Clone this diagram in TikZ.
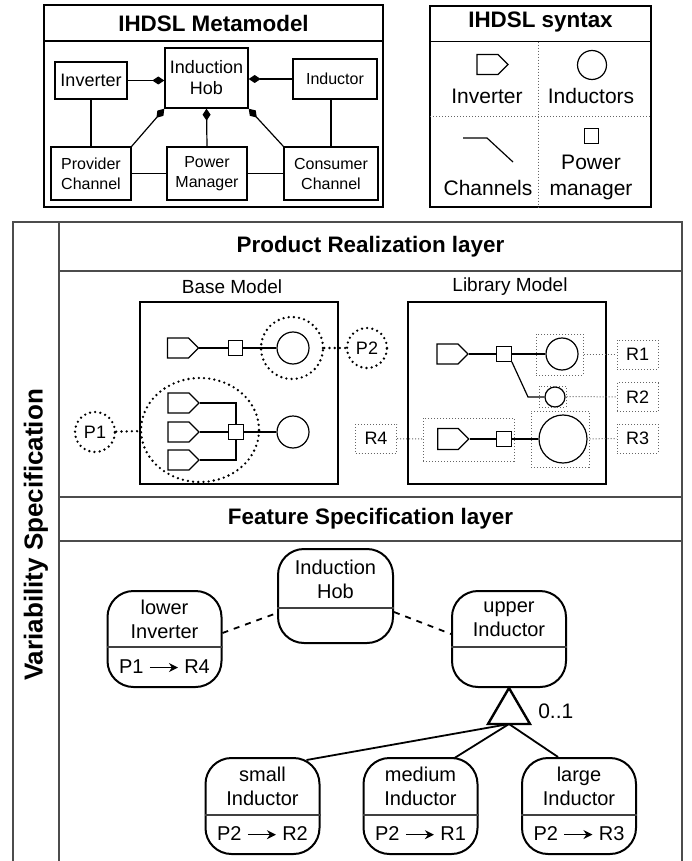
\documentclass[tikz,border=0pt]{standalone}
\usepackage{fontspec}
\setmainfont{Liberation Sans}
\usepackage{tikz}
\usetikzlibrary{
  arrows.meta,
  positioning,
  shapes.geometric,
  shapes.symbols,
  calc
}
\newcommand{\maparrow}{\tikz[baseline=-0.6ex]\draw[-{Stealth[length=4.5pt,width=4.5pt]}, line width=0.8pt] (0pt,0pt) -- (14pt,0pt);}

\begin{document}
\begin{tikzpicture}[
  x=0.5pt, y=-0.5pt,
  line width=0.6pt,
  titleT/.style={font=\fontsize{11.2}{13}\selectfont\bfseries},
  metaB/.style={
    draw, line width=0.7pt, align=center, inner sep=1pt,
    minimum width=40pt, minimum height=26.5pt, font=\fontsize{8}{10}\selectfont,
  },
  compose/.style={-{Diamond[length=6pt,width=4pt]}},
  synT/.style={font=\fontsize{10.5}{13}\selectfont, align=center},
  frameL/.style={draw=black!70, line width=0.75pt},
  modelB/.style={draw, line width=1pt, minimum width=99pt, minimum height=91pt},
  modelT/.style={font=\fontsize{9.5}{11}\selectfont},
  inv/.style={draw, signal, signal to=east, minimum width=15.5pt, minimum height=10pt, inner sep=0pt},
  mgr/.style={draw, minimum size=7.25pt, inner sep=0pt},
  ind/.style={draw, circle, minimum size=16pt, inner sep=0pt},
  pdot/.style={draw, dash pattern=on 0pt off 2.6pt, line width=1.3pt, line cap=round},
  ptag/.style={pdot, circle, minimum size=20pt, inner sep=0pt, font=\fontsize{9}{10}\selectfont},
  rdot/.style={draw=black!60, densely dotted, line width=0.5pt, inner sep=0pt},
  rtag/.style={rdot, minimum width=20.5pt, minimum height=14.5pt, font=\fontsize{9}{10}\selectfont},
  featB/.style={draw, line width=1pt, rounded corners=13pt, minimum width=57pt, minimum height=48pt},
  featT/.style={align=center, font=\fontsize{10}{12}\selectfont},
  featS/.style={draw=black!75, line width=0.7pt},
  featE/.style={line width=0.9pt},
]
\useasboundingbox (0,0) rectangle (691,861);

% IHDSL metamodel
\draw[line width=0.8pt] (44,5) rectangle (383,207);
\draw[line width=0.8pt] (44,41) -- (383,41);
\node[titleT] (metaT) at (213.5,23) {IHDSL Metamodel};

\node[metaB, minimum width=36pt, minimum height=18.5pt, font=\fontsize{9}{10.5}\selectfont] (inverter) at (91,80.5) {Inverter};
\node[metaB, minimum width=41.5pt, minimum height=30pt, font=\fontsize{9}{10.5}\selectfont] (hob) at (206.5,78) {Induction\\Hob};
\node[metaB, minimum width=42pt, minimum height=20pt] (inductor) at (335,79) {Inductor};
\node[metaB] (provider) at (91,173.5) {Provider\\Channel};
\node[metaB] (power) at (207,173.5) {Power\\Manager};
\node[metaB, minimum width=47pt] (consumer) at (331,173.5) {Consumer\\Channel};

\draw[compose] (inverter.east) -- (inverter.east -| hob.west);
\draw[compose] (inductor.west) -- (inductor.west -| hob.east);
\draw[compose] (provider.north east) -- (hob.south west);
\draw[compose] (power.north) -- (hob.south);
\draw[compose] (consumer.north west) -- (hob.south east);
\draw (inverter) -- (provider);
\draw (consumer.north) -- (consumer.north |- inductor.south);
\draw (provider) -- (power) -- (consumer);

% IHDSL syntax
\draw[line width=0.8pt] (430,6) rectangle (651,207);
\draw[line width=0.8pt] (430,41.7) -- (651,41.7);
\node[titleT] (synT) at (540.5,22) {IHDSL syntax};
\draw[rdot] (538,41.7) -- (538,207);
\draw[rdot] (430,117) -- (651,117);

\node[inv] (synInv) at (487.5,64.5) {};
\node[synT] (synInvT) at (487,96) {Inverter};
\node[ind, minimum size=14.5pt] (synInd) at (592,65) {};
\node[synT] (synIndT) at (591,96) {Inductors};
\draw (463,138) -- (487,138) -- (513,162);
\node[synT] (synChT) at (488,188) {Channels};
\node[mgr] (synMgr) at (591.5,136) {};
\node[synT] (synMgrT) at (591,177) {Power\\manager};

% Layers frame
\draw[frameL] (13,861) -- (13,222) -- (682,222) -- (682,861);
\draw[frameL] (59,222) -- (59,861);
\draw[frameL] (59,271) -- (682,271) (59,497) -- (682,497) (59,541) -- (682,541);
\node[titleT] (prlT) at (370.5,247) {Product Realization layer};
\node[titleT] (fslT) at (370.5,519) {Feature Specification layer};
\node[titleT, rotate=90, font=\fontsize{13}{15}\selectfont\bfseries] (varT) at (36,535) {Variability Specification};

% Base model
\node[modelT] (baseT) at (232,287) {Base Model};
\node[modelB] (basebox) at (239,393) {};

\node[inv] (bi1) at (178,348) {};
\node[mgr] (bm1) at (235.5,348) {};
\node[ind] (bc1) at (293,348) {};
\draw (bi1) -- (bm1) -- (bc1);
\node[pdot, circle, minimum size=31pt] (bg1) at (292,348) {};

\node[inv] (bi2) at (178.5,403) {};
\node[inv] (bi3) at (178.5,432) {};
\node[inv] (bi4) at (178.5,460) {};
\node[mgr] (bm2) at (236,432) {};
\node[ind] (bc2) at (293,432) {};
\draw (bi2.east) -| (bm2.north);
\draw (bi3) -- (bm2);
\draw (bi4.east) -| (bm2.south);
\draw (bm2) -- (bc2);
\node[pdot, ellipse, minimum width=59pt, minimum height=52pt] (bg2) at (200,430) {};

\node[ptag] (p1) at (95,432) {P1};
\node[ptag] (p2) at (367,348) {P2};
\draw[pdot] (p1) -- (bg2);
\draw[pdot] (bg1) -- (p2);

% Library model
\node[modelT] (libT) at (510,287) {Library Model};
\node[modelB] (libbox) at (507,393) {};

\node[inv] (li1) at (447.5,354) {};
\node[mgr] (lm1) at (504,354) {};
\node[ind] (lc1) at (562,354) {};
\node[ind, minimum size=10pt] (lc2) at (555,397) {};
\coordinate (lbend) at (528,397);
\draw (li1) -- (lm1) -- (lc1);
\draw (lm1.south east) -- (lbend) -- (lc2);

\node[inv, minimum height=10.5pt] (li2) at (448,439) {};
\node[mgr] (lm2) at (504,439) {};
\node[ind, minimum size=24pt] (lc3) at (563,439) {};
\draw (li2) -- (lm2) -- (lc3);

\node[rdot, minimum width=23.5pt, minimum height=20.5pt] (lg1) at (559.5,354.5) {};
\node[rdot, minimum width=13.5pt, minimum height=10.5pt] (lg2) at (552.5,396.5) {};
\node[rdot, minimum width=29pt, minimum height=28pt] (lg3) at (560,439) {};
\node[rdot, minimum width=45.5pt, minimum height=21.5pt] (lg4) at (468.5,439.5) {};

\node[rtag] (r1) at (637.5,354.5) {R1};
\node[rtag] (r2) at (637.5,397) {R2};
\node[rtag] (r3) at (637.5,438.5) {R3};
\node[rtag] (r4) at (376,438.5) {R4};
\draw[rdot] (lg1) -- (r1);
\draw[rdot] (lg2) -- (r2);
\draw[rdot] (lg3) -- (r3);
\draw[rdot] (r4) -- (lg4);

% Feature specification
\node[featB] (lowinv) at (164.5,639) {};
\node[featT] (lowinvT) at ($(lowinv.north)+(0,29)$) {lower\\Inverter};
\draw[featS] ($(lowinv.west)+(0,8)$) -- ($(lowinv.east)+(0,8)$);
\node[featT] (lowinvM) at ($(lowinv.south)+(0,-21)$) {P1 \maparrow{} R4};

\node[featB, minimum height=47pt, minimum width=57.5pt] (hobF) at (335.5,596) {};
\node[featT] (hobFT) at ($(hobF.north)+(0,31.5)$) {Induction\\Hob};
\draw[featS] ($(hobF.west)+(0,12)$) -- ($(hobF.east)+(0,12)$);

\node[featB] (upind) at (509,639) {};
\node[featT] (upindT) at ($(upind.north)+(0,29)$) {upper\\Inductor};
\draw[featS] ($(upind.west)+(0,8)$) -- ($(upind.east)+(0,8)$);

\draw[dashed, featE] ($(lowinv.east)+(0,-6)$) -- ($(hobF.west)+(0,17)$);
\draw[dashed, featE] ($(hobF.east)+(0,16)$) -- ($(upind.west)+(0,-5)$);

\node[featB] (small) at (262.5,806) {};
\node[featT] (smallT) at ($(small.north)+(0,29.5)$) {small\\Inductor};
\draw[featS] ($(small.west)+(0,9)$) -- ($(small.east)+(0,9)$);
\node[featT] (smallM) at ($(small.south)+(0,-21)$) {P2 \maparrow{} R2};

\node[featB] (medium) at (420.5,806) {};
\node[featT] (mediumT) at ($(medium.north)+(0,29.5)$) {medium\\Inductor};
\draw[featS] ($(medium.west)+(0,9)$) -- ($(medium.east)+(0,9)$);
\node[featT] (mediumM) at ($(medium.south)+(0,-21)$) {P2 \maparrow{} R1};

\node[featB] (large) at (579,806) {};
\node[featT] (largeT) at ($(large.north)+(0,29.5)$) {large\\Inductor};
\draw[featS] ($(large.west)+(0,9)$) -- ($(large.east)+(0,9)$);
\node[featT] (largeM) at ($(large.south)+(0,-21)$) {P2 \maparrow{} R3};

% alternative group
\coordinate (alt) at ($(upind.south)+(0,36)$);
\draw[line width=1.2pt, line join=miter] (upind.south) -- ($(alt)+(21,0)$) -- ($(alt)+(-21,0)$) -- cycle;
\node[featT, anchor=west, font=\fontsize{10.5}{12}\selectfont] (altT) at ($(alt)+(22,-13)$) {0..1};
\draw[featE] (alt) -- ($(small.north east)+(-14,3)$);
\draw[featE] (alt) -- ($(medium.north east)+(-24,1)$);
\draw[featE] (alt) -- ($(large.north)+(-21,0)$);

\end{tikzpicture}
\end{document}
